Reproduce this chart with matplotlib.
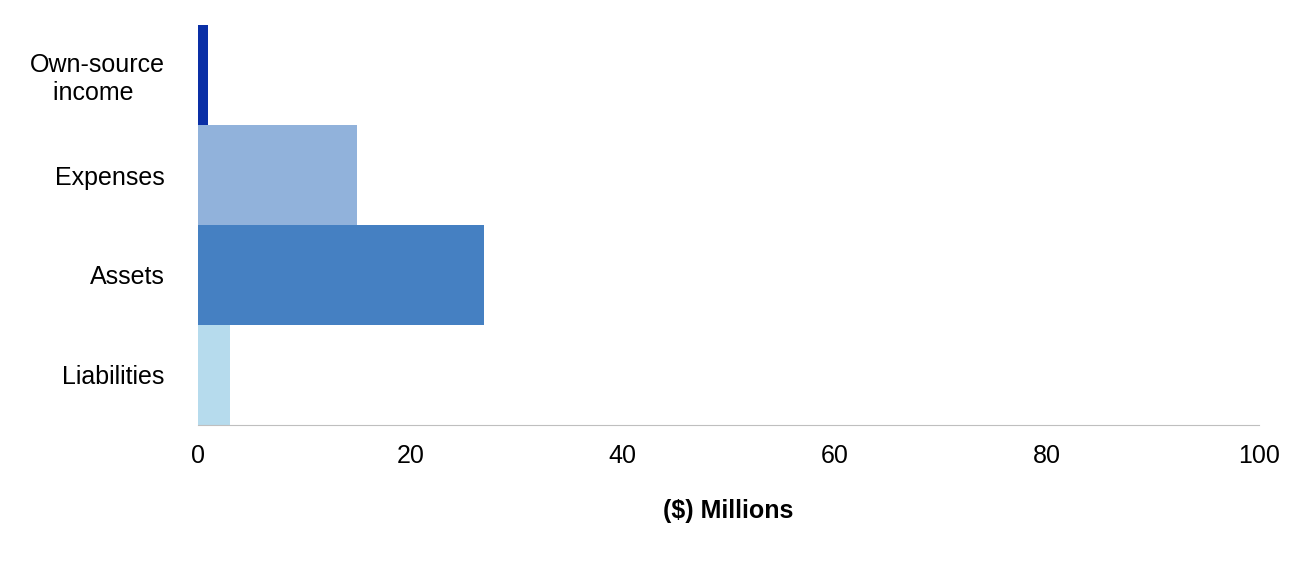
import matplotlib
matplotlib.use("Agg")
import matplotlib.pyplot as plt

categories = ["Own-source\nincome ", "Expenses", "Assets", "Liabilities"]
values = [0.9, 15.0, 27.0, 3.0]
colors = ["#0A2FA6", "#91B2DB", "#4580C2", "#B6DBED"]
xticks = [0, 20, 40, 60, 80, 100]

plt.rcParams['font.family'] = ['Liberation Sans', 'DejaVu Sans']
fig = plt.figure(figsize=(13.08, 5.62), dpi=100)
ax = fig.add_axes([198/1308, 137/562, 1061/1308, 400/562])
ypos = list(range(len(categories)))[::-1]
ax.barh(ypos, values, height=1.0, color=colors)
ax.set_ylim(-0.5, len(categories) - 0.5)
ax.set_xlim(0, 100)
ax.set_xticks(xticks)
ax.set_yticks(ypos)
ax.set_yticklabels(categories, fontsize=18, ha='right', multialignment='center')
ax.tick_params(axis='x', labelsize=18, length=0, pad=14)
ax.tick_params(axis='y', length=0, pad=24)
for s in ['top', 'right', 'left']:
    ax.spines[s].set_visible(False)
ax.spines['bottom'].set_color('#BFBFBF')
ax.set_xlabel("($) Millions", fontsize=18, fontweight='bold', labelpad=22)
fig.savefig("out.png", dpi=100)
